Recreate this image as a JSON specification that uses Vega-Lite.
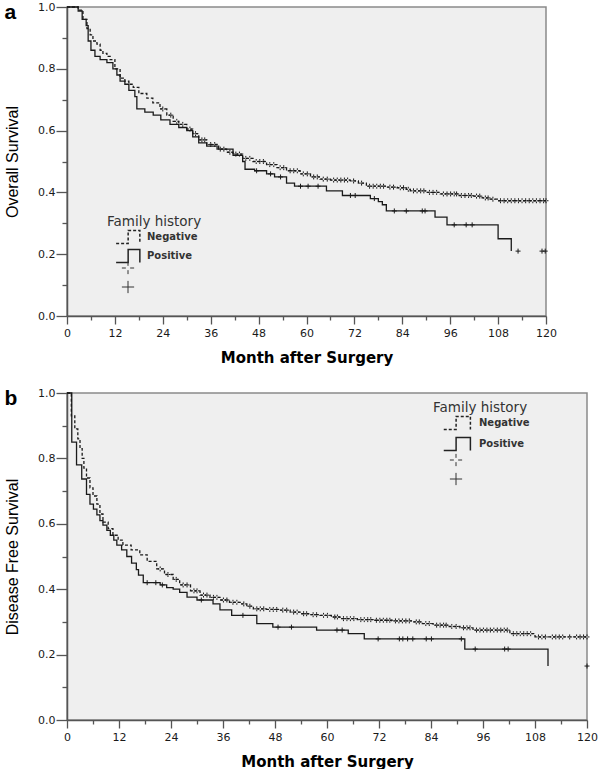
{
  "$schema": "https://vega.github.io/schema/vega-lite/v6.json",
  "padding": {"left": 3, "top": 0, "right": 5, "bottom": 2},
  "background": "white",
  "spacing": 20,
  "config": {
    "view": {"fill": "#efefef", "stroke": "#8a8a8a", "strokeWidth": 1.5},
    "axis": {"grid": false, "domainColor": "#555", "domainWidth": 1.5, "tickColor": "#555", "tickWidth": 1.3, "labelFont": "DejaVu Sans", "labelFontSize": 11, "labelColor": "#1a1a1a", "titleColor": "#000", "labelFlush": false, "labelOverlap": false}
  },
  "datasets": {
    "curveA": [
      {"group": "Negative", "month": 0, "surv": 1.0},
      {"group": "Negative", "month": 2.8, "surv": 0.99},
      {"group": "Negative", "month": 4, "surv": 0.96},
      {"group": "Negative", "month": 5, "surv": 0.93},
      {"group": "Negative", "month": 5.8, "surv": 0.91},
      {"group": "Negative", "month": 6.5, "surv": 0.89},
      {"group": "Negative", "month": 7.5, "surv": 0.88},
      {"group": "Negative", "month": 8.3, "surv": 0.86},
      {"group": "Negative", "month": 9, "surv": 0.85},
      {"group": "Negative", "month": 10, "surv": 0.84},
      {"group": "Negative", "month": 10.8, "surv": 0.83},
      {"group": "Negative", "month": 12, "surv": 0.8},
      {"group": "Negative", "month": 13.3, "surv": 0.77},
      {"group": "Negative", "month": 14.5, "surv": 0.76},
      {"group": "Negative", "month": 15.5, "surv": 0.75},
      {"group": "Negative", "month": 16.6, "surv": 0.74},
      {"group": "Negative", "month": 18, "surv": 0.72},
      {"group": "Negative", "month": 20, "surv": 0.705},
      {"group": "Negative", "month": 21.5, "surv": 0.69},
      {"group": "Negative", "month": 23.3, "surv": 0.67},
      {"group": "Negative", "month": 25, "surv": 0.65},
      {"group": "Negative", "month": 26.6, "surv": 0.63},
      {"group": "Negative", "month": 28, "surv": 0.62},
      {"group": "Negative", "month": 30, "surv": 0.605},
      {"group": "Negative", "month": 31.5, "surv": 0.59},
      {"group": "Negative", "month": 33, "surv": 0.57},
      {"group": "Negative", "month": 35, "surv": 0.555},
      {"group": "Negative", "month": 37.6, "surv": 0.54},
      {"group": "Negative", "month": 40, "surv": 0.53},
      {"group": "Negative", "month": 41.6, "surv": 0.524},
      {"group": "Negative", "month": 44, "surv": 0.51},
      {"group": "Negative", "month": 46.6, "surv": 0.5},
      {"group": "Negative", "month": 50, "surv": 0.49},
      {"group": "Negative", "month": 52.6, "surv": 0.48},
      {"group": "Negative", "month": 55, "surv": 0.47},
      {"group": "Negative", "month": 58.4, "surv": 0.46},
      {"group": "Negative", "month": 61, "surv": 0.45},
      {"group": "Negative", "month": 63.4, "surv": 0.443},
      {"group": "Negative", "month": 66, "surv": 0.44},
      {"group": "Negative", "month": 71, "surv": 0.437},
      {"group": "Negative", "month": 73, "surv": 0.43},
      {"group": "Negative", "month": 75, "surv": 0.42},
      {"group": "Negative", "month": 80, "surv": 0.417},
      {"group": "Negative", "month": 82.7, "surv": 0.415},
      {"group": "Negative", "month": 85, "surv": 0.41},
      {"group": "Negative", "month": 86, "surv": 0.405},
      {"group": "Negative", "month": 90, "surv": 0.4},
      {"group": "Negative", "month": 93.5, "surv": 0.395},
      {"group": "Negative", "month": 98, "surv": 0.39},
      {"group": "Negative", "month": 101.8, "surv": 0.388},
      {"group": "Negative", "month": 104, "surv": 0.382},
      {"group": "Negative", "month": 106, "surv": 0.378},
      {"group": "Negative", "month": 107.8, "surv": 0.373},
      {"group": "Negative", "month": 120, "surv": 0.373},
      {"group": "Positive", "month": 0, "surv": 1.0},
      {"group": "Positive", "month": 2.8, "surv": 0.987},
      {"group": "Positive", "month": 3.8, "surv": 0.96},
      {"group": "Positive", "month": 4.8, "surv": 0.94},
      {"group": "Positive", "month": 5.3, "surv": 0.89},
      {"group": "Positive", "month": 6, "surv": 0.86},
      {"group": "Positive", "month": 7, "surv": 0.84},
      {"group": "Positive", "month": 8.3, "surv": 0.83},
      {"group": "Positive", "month": 10, "surv": 0.82},
      {"group": "Positive", "month": 11.5, "surv": 0.8},
      {"group": "Positive", "month": 12.5, "surv": 0.78},
      {"group": "Positive", "month": 13.3, "surv": 0.76},
      {"group": "Positive", "month": 14.5, "surv": 0.75},
      {"group": "Positive", "month": 15.5, "surv": 0.73},
      {"group": "Positive", "month": 17, "surv": 0.71},
      {"group": "Positive", "month": 17.5, "surv": 0.67},
      {"group": "Positive", "month": 19.5, "surv": 0.66},
      {"group": "Positive", "month": 21.6, "surv": 0.65},
      {"group": "Positive", "month": 23.5, "surv": 0.635},
      {"group": "Positive", "month": 25.8, "surv": 0.62},
      {"group": "Positive", "month": 28, "surv": 0.61},
      {"group": "Positive", "month": 30, "surv": 0.6},
      {"group": "Positive", "month": 31.5, "surv": 0.58},
      {"group": "Positive", "month": 33, "surv": 0.56},
      {"group": "Positive", "month": 35, "surv": 0.55},
      {"group": "Positive", "month": 38, "surv": 0.54},
      {"group": "Positive", "month": 41.6, "surv": 0.52},
      {"group": "Positive", "month": 44, "surv": 0.5},
      {"group": "Positive", "month": 44.6, "surv": 0.475},
      {"group": "Positive", "month": 47, "surv": 0.47},
      {"group": "Positive", "month": 50, "surv": 0.46},
      {"group": "Positive", "month": 52, "surv": 0.45},
      {"group": "Positive", "month": 55, "surv": 0.43},
      {"group": "Positive", "month": 57, "surv": 0.42},
      {"group": "Positive", "month": 65, "surv": 0.405},
      {"group": "Positive", "month": 69, "surv": 0.39},
      {"group": "Positive", "month": 76, "surv": 0.38},
      {"group": "Positive", "month": 78, "surv": 0.37},
      {"group": "Positive", "month": 79, "surv": 0.36},
      {"group": "Positive", "month": 80, "surv": 0.34},
      {"group": "Positive", "month": 92.2, "surv": 0.32},
      {"group": "Positive", "month": 95.2, "surv": 0.295},
      {"group": "Positive", "month": 108, "surv": 0.25},
      {"group": "Positive", "month": 111.3, "surv": 0.21}
    ],
    "censorA": [
      {"cgroup": "Negative", "month": 24, "surv": 0.67},
      {"cgroup": "Negative", "month": 26, "surv": 0.65},
      {"cgroup": "Negative", "month": 27.5, "surv": 0.63},
      {"cgroup": "Negative", "month": 29, "surv": 0.62},
      {"cgroup": "Negative", "month": 30.8, "surv": 0.605},
      {"cgroup": "Negative", "month": 32.2, "surv": 0.59},
      {"cgroup": "Negative", "month": 33.8, "surv": 0.57},
      {"cgroup": "Negative", "month": 34.5, "surv": 0.57},
      {"cgroup": "Negative", "month": 36, "surv": 0.555},
      {"cgroup": "Negative", "month": 37, "surv": 0.555},
      {"cgroup": "Negative", "month": 38.4, "surv": 0.54},
      {"cgroup": "Negative", "month": 39.3, "surv": 0.54},
      {"cgroup": "Negative", "month": 40.8, "surv": 0.53},
      {"cgroup": "Negative", "month": 42.3, "surv": 0.524},
      {"cgroup": "Negative", "month": 43.2, "surv": 0.524},
      {"cgroup": "Negative", "month": 44.8, "surv": 0.51},
      {"cgroup": "Negative", "month": 45.8, "surv": 0.51},
      {"cgroup": "Negative", "month": 47.4, "surv": 0.5},
      {"cgroup": "Negative", "month": 48.3, "surv": 0.5},
      {"cgroup": "Negative", "month": 49.2, "surv": 0.5},
      {"cgroup": "Negative", "month": 50.8, "surv": 0.49},
      {"cgroup": "Negative", "month": 51.8, "surv": 0.49},
      {"cgroup": "Negative", "month": 53.4, "surv": 0.48},
      {"cgroup": "Negative", "month": 54.3, "surv": 0.48},
      {"cgroup": "Negative", "month": 55.9, "surv": 0.47},
      {"cgroup": "Negative", "month": 56.8, "surv": 0.47},
      {"cgroup": "Negative", "month": 57.7, "surv": 0.47},
      {"cgroup": "Negative", "month": 59.2, "surv": 0.46},
      {"cgroup": "Negative", "month": 60.2, "surv": 0.46},
      {"cgroup": "Negative", "month": 61.8, "surv": 0.45},
      {"cgroup": "Negative", "month": 62.7, "surv": 0.45},
      {"cgroup": "Negative", "month": 64.2, "surv": 0.443},
      {"cgroup": "Negative", "month": 65.2, "surv": 0.443},
      {"cgroup": "Negative", "month": 66.8, "surv": 0.44},
      {"cgroup": "Negative", "month": 67.7, "surv": 0.44},
      {"cgroup": "Negative", "month": 68.6, "surv": 0.44},
      {"cgroup": "Negative", "month": 69.5, "surv": 0.44},
      {"cgroup": "Negative", "month": 70.3, "surv": 0.44},
      {"cgroup": "Negative", "month": 71.8, "surv": 0.437},
      {"cgroup": "Negative", "month": 73.8, "surv": 0.43},
      {"cgroup": "Negative", "month": 75.8, "surv": 0.42},
      {"cgroup": "Negative", "month": 76.7, "surv": 0.42},
      {"cgroup": "Negative", "month": 77.6, "surv": 0.42},
      {"cgroup": "Negative", "month": 78.5, "surv": 0.42},
      {"cgroup": "Negative", "month": 79.3, "surv": 0.42},
      {"cgroup": "Negative", "month": 80.9, "surv": 0.417},
      {"cgroup": "Negative", "month": 81.8, "surv": 0.417},
      {"cgroup": "Negative", "month": 83.5, "surv": 0.415},
      {"cgroup": "Negative", "month": 84.3, "surv": 0.415},
      {"cgroup": "Negative", "month": 85.5, "surv": 0.41},
      {"cgroup": "Negative", "month": 86.8, "surv": 0.405},
      {"cgroup": "Negative", "month": 87.7, "surv": 0.405},
      {"cgroup": "Negative", "month": 88.6, "surv": 0.405},
      {"cgroup": "Negative", "month": 89.4, "surv": 0.405},
      {"cgroup": "Negative", "month": 90.8, "surv": 0.4},
      {"cgroup": "Negative", "month": 91.7, "surv": 0.4},
      {"cgroup": "Negative", "month": 92.6, "surv": 0.4},
      {"cgroup": "Negative", "month": 94.3, "surv": 0.395},
      {"cgroup": "Negative", "month": 95.2, "surv": 0.395},
      {"cgroup": "Negative", "month": 96.1, "surv": 0.395},
      {"cgroup": "Negative", "month": 97, "surv": 0.395},
      {"cgroup": "Negative", "month": 97.6, "surv": 0.395},
      {"cgroup": "Negative", "month": 98.8, "surv": 0.39},
      {"cgroup": "Negative", "month": 99.7, "surv": 0.39},
      {"cgroup": "Negative", "month": 100.6, "surv": 0.39},
      {"cgroup": "Negative", "month": 101.3, "surv": 0.39},
      {"cgroup": "Negative", "month": 102.6, "surv": 0.388},
      {"cgroup": "Negative", "month": 103.4, "surv": 0.388},
      {"cgroup": "Negative", "month": 104.8, "surv": 0.382},
      {"cgroup": "Negative", "month": 105.5, "surv": 0.382},
      {"cgroup": "Negative", "month": 106.7, "surv": 0.378},
      {"cgroup": "Negative", "month": 108.6, "surv": 0.373},
      {"cgroup": "Negative", "month": 109.5, "surv": 0.373},
      {"cgroup": "Negative", "month": 110.4, "surv": 0.373},
      {"cgroup": "Negative", "month": 111.3, "surv": 0.373},
      {"cgroup": "Negative", "month": 112.2, "surv": 0.373},
      {"cgroup": "Negative", "month": 113.1, "surv": 0.373},
      {"cgroup": "Negative", "month": 114, "surv": 0.373},
      {"cgroup": "Negative", "month": 114.9, "surv": 0.373},
      {"cgroup": "Negative", "month": 115.8, "surv": 0.373},
      {"cgroup": "Negative", "month": 116.7, "surv": 0.373},
      {"cgroup": "Negative", "month": 117.6, "surv": 0.373},
      {"cgroup": "Negative", "month": 118.5, "surv": 0.373},
      {"cgroup": "Negative", "month": 119.4, "surv": 0.373},
      {"cgroup": "Negative", "month": 120, "surv": 0.373},
      {"cgroup": "Positive", "month": 47.5, "surv": 0.47},
      {"cgroup": "Positive", "month": 51, "surv": 0.46},
      {"cgroup": "Positive", "month": 53.5, "surv": 0.45},
      {"cgroup": "Positive", "month": 58.5, "surv": 0.42},
      {"cgroup": "Positive", "month": 60.4, "surv": 0.42},
      {"cgroup": "Positive", "month": 62.9, "surv": 0.42},
      {"cgroup": "Positive", "month": 71, "surv": 0.39},
      {"cgroup": "Positive", "month": 72.2, "surv": 0.39},
      {"cgroup": "Positive", "month": 77, "surv": 0.38},
      {"cgroup": "Positive", "month": 82, "surv": 0.34},
      {"cgroup": "Positive", "month": 85, "surv": 0.34},
      {"cgroup": "Positive", "month": 89, "surv": 0.34},
      {"cgroup": "Positive", "month": 89.7, "surv": 0.34},
      {"cgroup": "Positive", "month": 97, "surv": 0.295},
      {"cgroup": "Positive", "month": 100, "surv": 0.295},
      {"cgroup": "Positive", "month": 101.5, "surv": 0.295},
      {"cgroup": "Positive", "month": 113, "surv": 0.21},
      {"cgroup": "Positive", "month": 119, "surv": 0.21},
      {"cgroup": "Positive", "month": 119.8, "surv": 0.21}
    ],
    "curveB": [
      {"group": "Negative", "month": 0, "surv": 1.0},
      {"group": "Negative", "month": 1.0, "surv": 0.93},
      {"group": "Negative", "month": 1.8, "surv": 0.89},
      {"group": "Negative", "month": 2.5, "surv": 0.86},
      {"group": "Negative", "month": 3, "surv": 0.83},
      {"group": "Negative", "month": 3.5, "surv": 0.8},
      {"group": "Negative", "month": 3.9, "surv": 0.77},
      {"group": "Negative", "month": 4.5, "surv": 0.74},
      {"group": "Negative", "month": 5.3, "surv": 0.71},
      {"group": "Negative", "month": 6, "surv": 0.685},
      {"group": "Negative", "month": 6.9, "surv": 0.66},
      {"group": "Negative", "month": 7.6, "surv": 0.63},
      {"group": "Negative", "month": 8.3, "surv": 0.605},
      {"group": "Negative", "month": 9.5, "surv": 0.585},
      {"group": "Negative", "month": 10.6, "surv": 0.565},
      {"group": "Negative", "month": 11.8, "surv": 0.55},
      {"group": "Negative", "month": 12.9, "surv": 0.535},
      {"group": "Negative", "month": 14.8, "surv": 0.52},
      {"group": "Negative", "month": 16.8, "surv": 0.505},
      {"group": "Negative", "month": 18.5, "surv": 0.485},
      {"group": "Negative", "month": 20.7, "surv": 0.462},
      {"group": "Negative", "month": 22.5, "surv": 0.445},
      {"group": "Negative", "month": 24.5, "surv": 0.43},
      {"group": "Negative", "month": 26, "surv": 0.413},
      {"group": "Negative", "month": 28.5, "surv": 0.395},
      {"group": "Negative", "month": 30.7, "surv": 0.382},
      {"group": "Negative", "month": 33, "surv": 0.375},
      {"group": "Negative", "month": 35.3, "surv": 0.367},
      {"group": "Negative", "month": 37.5, "surv": 0.36},
      {"group": "Negative", "month": 40, "surv": 0.355},
      {"group": "Negative", "month": 41.5, "surv": 0.348},
      {"group": "Negative", "month": 43, "surv": 0.34},
      {"group": "Negative", "month": 46, "surv": 0.338},
      {"group": "Negative", "month": 49, "surv": 0.336},
      {"group": "Negative", "month": 51.5, "surv": 0.33},
      {"group": "Negative", "month": 53.8, "surv": 0.325},
      {"group": "Negative", "month": 56, "surv": 0.322},
      {"group": "Negative", "month": 58.4, "surv": 0.32},
      {"group": "Negative", "month": 61, "surv": 0.315},
      {"group": "Negative", "month": 63, "surv": 0.31},
      {"group": "Negative", "month": 67, "surv": 0.307},
      {"group": "Negative", "month": 70.6, "surv": 0.305},
      {"group": "Negative", "month": 75, "surv": 0.303},
      {"group": "Negative", "month": 79.8, "surv": 0.3},
      {"group": "Negative", "month": 82, "surv": 0.295},
      {"group": "Negative", "month": 84.5, "surv": 0.29},
      {"group": "Negative", "month": 88, "surv": 0.286},
      {"group": "Negative", "month": 90.7, "surv": 0.282},
      {"group": "Negative", "month": 93.7, "surv": 0.275},
      {"group": "Negative", "month": 102.2, "surv": 0.264},
      {"group": "Negative", "month": 108, "surv": 0.254},
      {"group": "Negative", "month": 120, "surv": 0.254},
      {"group": "Positive", "month": 0, "surv": 1.0},
      {"group": "Positive", "month": 1.1, "surv": 0.85},
      {"group": "Positive", "month": 2.2, "surv": 0.78},
      {"group": "Positive", "month": 3.4, "surv": 0.737},
      {"group": "Positive", "month": 4.5, "surv": 0.69},
      {"group": "Positive", "month": 5.3, "surv": 0.66},
      {"group": "Positive", "month": 6.1, "surv": 0.645},
      {"group": "Positive", "month": 6.9, "surv": 0.627},
      {"group": "Positive", "month": 7.6, "surv": 0.61},
      {"group": "Positive", "month": 8.3, "surv": 0.596},
      {"group": "Positive", "month": 9.2, "surv": 0.58},
      {"group": "Positive", "month": 10, "surv": 0.565},
      {"group": "Positive", "month": 10.8, "surv": 0.55},
      {"group": "Positive", "month": 11.5, "surv": 0.535},
      {"group": "Positive", "month": 12.6, "surv": 0.52},
      {"group": "Positive", "month": 13.8, "surv": 0.5},
      {"group": "Positive", "month": 14.9, "surv": 0.48},
      {"group": "Positive", "month": 16, "surv": 0.46},
      {"group": "Positive", "month": 16.5, "surv": 0.443},
      {"group": "Positive", "month": 17.6, "surv": 0.42},
      {"group": "Positive", "month": 21.5, "surv": 0.413},
      {"group": "Positive", "month": 23, "surv": 0.405},
      {"group": "Positive", "month": 24.5, "surv": 0.4},
      {"group": "Positive", "month": 26, "surv": 0.39},
      {"group": "Positive", "month": 27.7, "surv": 0.376},
      {"group": "Positive", "month": 30, "surv": 0.367},
      {"group": "Positive", "month": 33.7, "surv": 0.355},
      {"group": "Positive", "month": 35.3, "surv": 0.337},
      {"group": "Positive", "month": 38, "surv": 0.32},
      {"group": "Positive", "month": 43.8, "surv": 0.295},
      {"group": "Positive", "month": 47.5, "surv": 0.284},
      {"group": "Positive", "month": 57.6, "surv": 0.275},
      {"group": "Positive", "month": 64.9, "surv": 0.264},
      {"group": "Positive", "month": 68.6, "surv": 0.248},
      {"group": "Positive", "month": 91.8, "surv": 0.217},
      {"group": "Positive", "month": 111, "surv": 0.165}
    ],
    "censorB": [
      {"cgroup": "Negative", "month": 21.5, "surv": 0.462},
      {"cgroup": "Negative", "month": 23.3, "surv": 0.445},
      {"cgroup": "Negative", "month": 25.2, "surv": 0.43},
      {"cgroup": "Negative", "month": 26.8, "surv": 0.413},
      {"cgroup": "Negative", "month": 27.7, "surv": 0.413},
      {"cgroup": "Negative", "month": 29.3, "surv": 0.395},
      {"cgroup": "Negative", "month": 30, "surv": 0.395},
      {"cgroup": "Negative", "month": 31.5, "surv": 0.382},
      {"cgroup": "Negative", "month": 32.3, "surv": 0.382},
      {"cgroup": "Negative", "month": 33.8, "surv": 0.375},
      {"cgroup": "Negative", "month": 34.6, "surv": 0.375},
      {"cgroup": "Negative", "month": 36.1, "surv": 0.367},
      {"cgroup": "Negative", "month": 36.9, "surv": 0.367},
      {"cgroup": "Negative", "month": 38.3, "surv": 0.36},
      {"cgroup": "Negative", "month": 39.2, "surv": 0.36},
      {"cgroup": "Negative", "month": 40.8, "surv": 0.355},
      {"cgroup": "Negative", "month": 42.2, "surv": 0.348},
      {"cgroup": "Negative", "month": 43.8, "surv": 0.34},
      {"cgroup": "Negative", "month": 44.6, "surv": 0.34},
      {"cgroup": "Negative", "month": 45.4, "surv": 0.34},
      {"cgroup": "Negative", "month": 46.8, "surv": 0.338},
      {"cgroup": "Negative", "month": 47.6, "surv": 0.338},
      {"cgroup": "Negative", "month": 48.4, "surv": 0.338},
      {"cgroup": "Negative", "month": 49.8, "surv": 0.336},
      {"cgroup": "Negative", "month": 50.7, "surv": 0.336},
      {"cgroup": "Negative", "month": 52.3, "surv": 0.33},
      {"cgroup": "Negative", "month": 53.1, "surv": 0.33},
      {"cgroup": "Negative", "month": 54.6, "surv": 0.325},
      {"cgroup": "Negative", "month": 55.3, "surv": 0.325},
      {"cgroup": "Negative", "month": 56.8, "surv": 0.322},
      {"cgroup": "Negative", "month": 57.6, "surv": 0.322},
      {"cgroup": "Negative", "month": 59.2, "surv": 0.32},
      {"cgroup": "Negative", "month": 60.1, "surv": 0.32},
      {"cgroup": "Negative", "month": 61.8, "surv": 0.315},
      {"cgroup": "Negative", "month": 62.4, "surv": 0.315},
      {"cgroup": "Negative", "month": 63.8, "surv": 0.31},
      {"cgroup": "Negative", "month": 64.6, "surv": 0.31},
      {"cgroup": "Negative", "month": 65.4, "surv": 0.31},
      {"cgroup": "Negative", "month": 66.2, "surv": 0.31},
      {"cgroup": "Negative", "month": 67.8, "surv": 0.307},
      {"cgroup": "Negative", "month": 68.6, "surv": 0.307},
      {"cgroup": "Negative", "month": 69.4, "surv": 0.307},
      {"cgroup": "Negative", "month": 70.1, "surv": 0.307},
      {"cgroup": "Negative", "month": 71.4, "surv": 0.305},
      {"cgroup": "Negative", "month": 72.2, "surv": 0.305},
      {"cgroup": "Negative", "month": 73, "surv": 0.305},
      {"cgroup": "Negative", "month": 73.8, "surv": 0.305},
      {"cgroup": "Negative", "month": 74.5, "surv": 0.305},
      {"cgroup": "Negative", "month": 75.8, "surv": 0.303},
      {"cgroup": "Negative", "month": 76.6, "surv": 0.303},
      {"cgroup": "Negative", "month": 77.4, "surv": 0.303},
      {"cgroup": "Negative", "month": 78.2, "surv": 0.303},
      {"cgroup": "Negative", "month": 79, "surv": 0.303},
      {"cgroup": "Negative", "month": 80.6, "surv": 0.3},
      {"cgroup": "Negative", "month": 81.3, "surv": 0.3},
      {"cgroup": "Negative", "month": 82.8, "surv": 0.295},
      {"cgroup": "Negative", "month": 83.6, "surv": 0.295},
      {"cgroup": "Negative", "month": 85.3, "surv": 0.29},
      {"cgroup": "Negative", "month": 86.1, "surv": 0.29},
      {"cgroup": "Negative", "month": 86.9, "surv": 0.29},
      {"cgroup": "Negative", "month": 87.5, "surv": 0.29},
      {"cgroup": "Negative", "month": 88.8, "surv": 0.286},
      {"cgroup": "Negative", "month": 89.8, "surv": 0.286},
      {"cgroup": "Negative", "month": 91.5, "surv": 0.282},
      {"cgroup": "Negative", "month": 92.3, "surv": 0.282},
      {"cgroup": "Negative", "month": 93, "surv": 0.282},
      {"cgroup": "Negative", "month": 94.5, "surv": 0.275},
      {"cgroup": "Negative", "month": 95.3, "surv": 0.275},
      {"cgroup": "Negative", "month": 96.1, "surv": 0.275},
      {"cgroup": "Negative", "month": 96.9, "surv": 0.275},
      {"cgroup": "Negative", "month": 97.7, "surv": 0.275},
      {"cgroup": "Negative", "month": 98.5, "surv": 0.275},
      {"cgroup": "Negative", "month": 99.3, "surv": 0.275},
      {"cgroup": "Negative", "month": 100.1, "surv": 0.275},
      {"cgroup": "Negative", "month": 100.9, "surv": 0.275},
      {"cgroup": "Negative", "month": 101.6, "surv": 0.275},
      {"cgroup": "Negative", "month": 103, "surv": 0.264},
      {"cgroup": "Negative", "month": 103.8, "surv": 0.264},
      {"cgroup": "Negative", "month": 104.6, "surv": 0.264},
      {"cgroup": "Negative", "month": 105.4, "surv": 0.264},
      {"cgroup": "Negative", "month": 106.2, "surv": 0.264},
      {"cgroup": "Negative", "month": 107, "surv": 0.264},
      {"cgroup": "Negative", "month": 108.8, "surv": 0.254},
      {"cgroup": "Negative", "month": 109.6, "surv": 0.254},
      {"cgroup": "Negative", "month": 110.4, "surv": 0.254},
      {"cgroup": "Negative", "month": 112, "surv": 0.254},
      {"cgroup": "Negative", "month": 112.8, "surv": 0.254},
      {"cgroup": "Negative", "month": 113.6, "surv": 0.254},
      {"cgroup": "Negative", "month": 114.4, "surv": 0.254},
      {"cgroup": "Negative", "month": 116, "surv": 0.254},
      {"cgroup": "Negative", "month": 117.6, "surv": 0.254},
      {"cgroup": "Negative", "month": 118.4, "surv": 0.254},
      {"cgroup": "Negative", "month": 119.2, "surv": 0.254},
      {"cgroup": "Negative", "month": 120, "surv": 0.254},
      {"cgroup": "Positive", "month": 18.5, "surv": 0.42},
      {"cgroup": "Positive", "month": 20.5, "surv": 0.42},
      {"cgroup": "Positive", "month": 22, "surv": 0.413},
      {"cgroup": "Positive", "month": 31, "surv": 0.367},
      {"cgroup": "Positive", "month": 40.6, "surv": 0.32},
      {"cgroup": "Positive", "month": 48.7, "surv": 0.284},
      {"cgroup": "Positive", "month": 51.8, "surv": 0.284},
      {"cgroup": "Positive", "month": 62.3, "surv": 0.275},
      {"cgroup": "Positive", "month": 63.5, "surv": 0.275},
      {"cgroup": "Positive", "month": 71.8, "surv": 0.248},
      {"cgroup": "Positive", "month": 76.7, "surv": 0.248},
      {"cgroup": "Positive", "month": 77.5, "surv": 0.248},
      {"cgroup": "Positive", "month": 78.6, "surv": 0.248},
      {"cgroup": "Positive", "month": 79.8, "surv": 0.248},
      {"cgroup": "Positive", "month": 82.9, "surv": 0.248},
      {"cgroup": "Positive", "month": 84.1, "surv": 0.248},
      {"cgroup": "Positive", "month": 91, "surv": 0.248},
      {"cgroup": "Positive", "month": 94.2, "surv": 0.217},
      {"cgroup": "Positive", "month": 101, "surv": 0.217},
      {"cgroup": "Positive", "month": 101.8, "surv": 0.217},
      {"cgroup": "Positive", "month": 120, "surv": 0.165}
    ]
  },
  "vconcat": [
    {
      "width": 479,
      "height": 309,
      "title": {"text": "a", "anchor": "start", "frame": "bounds", "font": "Liberation Sans", "fontSize": 21, "fontWeight": "bold", "color": "#000", "offset": -22},
      "encoding": {
        "x": {"field": "month", "type": "quantitative", "scale": {"domain": [0, 120], "nice": false},
          "axis": {"values": [0,6,12,18,24,30,36,42,48,54,60,66,72,78,84,90,96,102,108,114,120],
            "labelExpr": "datum.value % 12 === 0 ? datum.label : ''",
            "tickSize": {"condition": {"test": "datum.value % 12 === 0", "value": 8}, "value": 4},
            "labelPadding": 3, "title": "Month after Surgery", "titleFont": "DejaVu Sans", "titleFontSize": 15, "titleFontWeight": "bold", "titlePadding": 12}},
        "y": {"field": "surv", "type": "quantitative", "scale": {"domain": [0, 1], "nice": false},
          "axis": {"values": [0,0.1,0.2,0.3,0.4,0.5,0.6,0.7,0.8,0.9,1.0],
            "labelExpr": "round(datum.value*10) % 2 === 0 ? format(datum.value, '.1f') : ''",
            "tickSize": {"condition": {"test": "round(datum.value*10) % 2 === 0", "value": 11}, "value": 5},
            "labelPadding": 1, "title": "Overall Survival", "titleFont": "Liberation Sans", "titleFontSize": 16, "titleFontWeight": "normal", "titlePadding": 17}}
      },
      "layer": [
        {
          "data": {"name": "curveA"},
          "mark": {"type": "line", "interpolate": "step-after", "color": "#1a1a1a", "strokeWidth": 1.3},
          "encoding": {
            "strokeDash": {"field": "group", "type": "nominal", "scale": {"domain": ["Negative", "Positive"], "range": [[3, 2], [1, 0]]},
              "legend": {"title": "Family history", "orient": "none", "legendX": 40, "legendY": 208,
                "symbolType": "M0.25,1H2.1V-1H3.9V1", "symbolSize": 169, "symbolStrokeWidth": 1.5, "symbolStrokeColor": "#222", "symbolFillColor": "transparent",
                "labelFont": "DejaVu Sans", "labelFontSize": 10, "labelFontWeight": "bold", "labelColor": "#333", "labelOffset": 25,
                "titleFont": "DejaVu Sans", "titleFontSize": 13.5, "titleFontWeight": "normal", "titleColor": "#333", "titlePadding": 1, "rowPadding": 0}}
          }
        },
        {
          "data": {"name": "censorA"},
          "mark": {"type": "point", "filled": false, "color": "#1a1a1a", "strokeWidth": 1, "size": 25, "opacity": 1},
          "encoding": {
            "shape": {"field": "cgroup", "type": "nominal", "scale": {"range": ["M-1,0H-0.35M0.35,0H1M0,-1V-0.35M0,0.35V1", "M-1,0H1M0,-1V1"]},
              "legend": {"title": null, "orient": "none", "legendX": 54, "legendY": 254, "labelExpr": "''",
                "symbolSize": 150, "symbolStrokeColor": "#333", "symbolStrokeWidth": 1, "symbolFillColor": "transparent", "rowPadding": 1}}
          }
        }
      ]
    },
    {
      "width": 520,
      "height": 327,
      "title": {"text": "b", "anchor": "start", "frame": "bounds", "font": "Liberation Sans", "fontSize": 21, "fontWeight": "bold", "color": "#000", "offset": -22},
      "encoding": {
        "x": {"field": "month", "type": "quantitative", "scale": {"domain": [0, 120], "nice": false},
          "axis": {"values": [0,6,12,18,24,30,36,42,48,54,60,66,72,78,84,90,96,102,108,114,120],
            "labelExpr": "datum.value % 12 === 0 ? datum.label : ''",
            "tickSize": {"condition": {"test": "datum.value % 12 === 0", "value": 8}, "value": 4},
            "labelPadding": 3, "title": "Month after Surgery", "titleFont": "DejaVu Sans", "titleFontSize": 15, "titleFontWeight": "bold", "titlePadding": 12}},
        "y": {"field": "surv", "type": "quantitative", "scale": {"domain": [0, 1], "nice": false},
          "axis": {"values": [0,0.1,0.2,0.3,0.4,0.5,0.6,0.7,0.8,0.9,1.0],
            "labelExpr": "round(datum.value*10) % 2 === 0 ? format(datum.value, '.1f') : ''",
            "tickSize": {"condition": {"test": "round(datum.value*10) % 2 === 0", "value": 11}, "value": 5},
            "labelPadding": 1, "title": "Disease Free Survival", "titleFont": "Liberation Sans", "titleFontSize": 16, "titleFontWeight": "normal", "titlePadding": 17}}
      },
      "layer": [
        {
          "data": {"name": "curveB"},
          "mark": {"type": "line", "interpolate": "step-after", "color": "#1a1a1a", "strokeWidth": 1.3},
          "encoding": {
            "strokeDash": {"field": "group", "type": "nominal", "scale": {"domain": ["Negative", "Positive"], "range": [[3, 2], [1, 0]]},
              "legend": {"title": "Family history", "orient": "none", "legendX": 366, "legendY": 8,
                "symbolType": "M0.5,1H2.4V-1H4.6V1", "symbolSize": 169, "symbolStrokeWidth": 1.5, "symbolStrokeColor": "#222", "symbolFillColor": "transparent",
                "labelFont": "DejaVu Sans", "labelFontSize": 10, "labelFontWeight": "bold", "labelColor": "#333", "labelOffset": 31,
                "titleFont": "DejaVu Sans", "titleFontSize": 13.5, "titleFontWeight": "normal", "titleColor": "#333", "titlePadding": 1, "rowPadding": 2}}
          }
        },
        {
          "data": {"name": "censorB"},
          "mark": {"type": "point", "filled": false, "color": "#1a1a1a", "strokeWidth": 1, "size": 25, "opacity": 1},
          "encoding": {
            "shape": {"field": "cgroup", "type": "nominal", "scale": {"range": ["M-1,0H-0.35M0.35,0H1M0,-1V-0.35M0,0.35V1", "M-1,0H1M0,-1V1"]},
              "legend": {"title": null, "orient": "none", "legendX": 382, "legendY": 60, "labelExpr": "''",
                "symbolSize": 150, "symbolStrokeColor": "#333", "symbolStrokeWidth": 1, "symbolFillColor": "transparent", "rowPadding": 1}}
          }
        }
      ]
    }
  ],
  "resolve": {
    "scale": {"x": "independent", "y": "independent", "strokeDash": "independent", "shape": "independent"},
    "legend": {"strokeDash": "independent", "shape": "independent"}
  }
}
